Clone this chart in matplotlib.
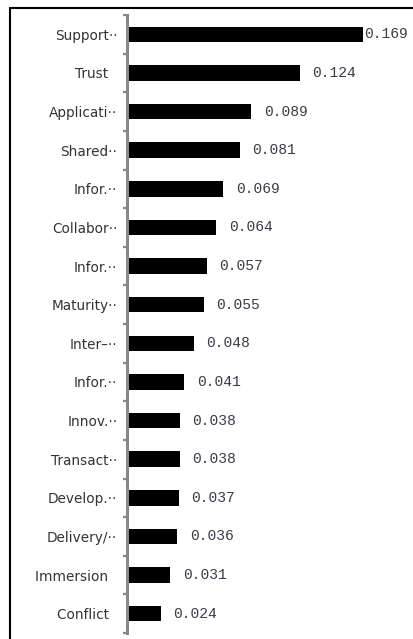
import matplotlib.pyplot as plt
import numpy as np
from matplotlib.patches import Rectangle

# categories (top to bottom) and their weights
labels = ['Support\u00b7\u00b7', 'Trust  ', 'Applicati\u00b7\u00b7', 'Shared\u00b7\u00b7', 'Infor.\u00b7\u00b7',
          'Collabor\u00b7\u00b7', 'Infor.\u00b7\u00b7', 'Maturity\u00b7\u00b7', 'Inter\u2013\u00b7\u00b7', 'Infor.\u00b7\u00b7',
          'Innov.\u00b7\u00b7', 'Transact\u00b7\u00b7', 'Develop.\u00b7\u00b7', 'Delivery/\u00b7\u00b7', 'Immersion  ',
          'Conflict  ']
values = [0.169, 0.124, 0.089, 0.081, 0.069, 0.064, 0.057, 0.055, 0.048, 0.041,
          0.038, 0.038, 0.037, 0.036, 0.031, 0.024]

W, H = 413, 639
fig = plt.figure(figsize=(W / 100, H / 100), dpi=100)
ax = fig.add_axes([127 / W, 6 / H, (W - 127) / W, 618 / H])

ind = np.arange(len(values))
ax.barh(ind, values, height=0.4, color='black')

ax.set_ylim(len(values) - 0.5, -0.5)
ax.set_xlim(0, (W - 127) / 1396)

# value labels
for i, v in enumerate(values):
    pad = 1 if v == max(values) else 9
    ax.annotate('%.3f' % v, (v, i), xytext=(pad, 0), textcoords='offset points',
                va='center', ha='left', fontsize=10.5, color='#3a3a4a',
                family='Liberation Mono')

for s in ['top', 'right', 'bottom']:
    ax.spines[s].set_visible(False)
ax.spines['left'].set_color('#888888')
ax.spines['left'].set_linewidth(2.2)
ax.set_xticks([])
ax.set_yticks(ind)
ax.set_yticklabels(labels, fontsize=9.8, color='#333333')
ax.tick_params(axis='y', which='major', length=0, pad=7)
ax.set_yticks(np.arange(-0.5, len(values)), minor=True)
ax.tick_params(axis='y', which='minor', length=3, width=1.6, color='#888888')

# outer frame (cropped on the right and bottom)
fig.add_artist(Rectangle((10 / W, -0.1), 1.2, 1 - 8 / H + 0.1, transform=fig.transFigure,
                         fill=False, lw=1.5, ec='black'))

fig.savefig('out.png', dpi=100)
